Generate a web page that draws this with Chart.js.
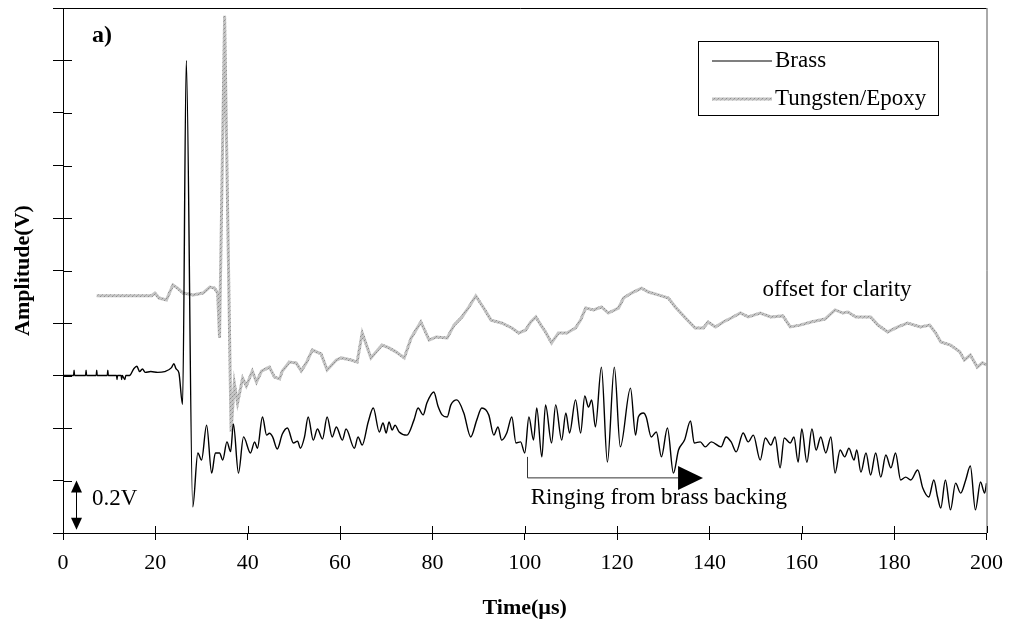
<!DOCTYPE html>
<html>
<head>
<meta charset="utf-8">
<script src="https://cdn.jsdelivr.net/npm/chart.js@4.4.1/dist/chart.umd.min.js"></script>
<style>
  html, body { margin: 0; padding: 0; background: #fff; }
  #wrap { width: 1013px; height: 631px; }
</style>
</head>
<body>
<div id="wrap"><canvas id="chart" width="1013" height="631"></canvas></div>
<script>
// time in µs, amplitude in V (tungsten/epoxy trace offset for clarity)
const brassTime = [0, 2.3, 2.4, 2.5, 4.9, 5.0, 5.1, 7.2, 7.3, 7.4, 9.6, 9.7, 9.8, 11.6, 11.7, 11.8, 12.6, 12.7, 12.8, 13.4, 13.6, 14.4,
  15.3, 16.0, 16.6, 17.2, 17.8, 19.0, 20.5, 22.0, 23.5, 24.0, 24.5, 25.1, 25.9, 26.7, 28.1, 29.2, 30.0, 31.1, 32.2, 33.0, 33.9,
  34.6, 35.5, 36.3, 36.9, 38.0, 39.1, 40.6, 41.5, 42.1, 43.2, 44.1, 44.7, 45.4, 46.4, 47.5, 48.6, 49.9, 50.8, 51.4, 52.3, 53.1,
  54.2, 55.1, 56.2, 57.2, 58.3, 59.2, 60.5, 61.3, 63.1, 63.9, 64.8, 66.1, 67.2, 68.5, 69.3, 70.0, 70.6, 71.3, 71.9, 72.8, 74.5,
  76.0, 76.9, 78.0, 78.8, 80.3, 81.2, 82.1, 83.2, 84.0, 85.3, 86.8, 88.3, 89.6, 90.7, 92.2, 93.3, 94.2, 95.0, 96.1, 97.2, 98.1,
  99.1, 100.0, 100.9, 101.9, 102.6, 103.7, 104.5, 105.8, 106.7, 108.0, 108.9, 109.7, 111.0, 112.1, 113.0, 113.8, 114.5, 115.3,
  116.6, 117.9, 119.4, 120.7, 122.9, 124.0, 124.6, 125.7, 126.3, 127.4, 128.5, 129.6, 130.9, 132.2, 133.3, 134.6, 135.9, 136.7,
  138.0, 139.1, 140.4, 142.5, 143.6, 144.7, 145.8, 147.3, 148.4, 149.5, 151.0, 152.1, 153.3, 154.2, 155.3, 156.2, 157.5, 158.3,
  159.2, 160.0, 161.1, 162.2, 163.1, 164.1, 165.2, 166.3, 167.2, 168.3, 169.3, 170.2, 171.3, 171.9, 172.8, 173.9, 174.9, 176.0,
  177.1, 178.2, 179.3, 180.3, 181.4, 182.5, 183.6, 185.1, 186.2, 187.5, 188.6, 189.4, 190.1, 191.1, 192.2, 193.3, 194.4, 195.5,
  196.5, 197.6, 198.7, 199.6, 200];
const brassVolts = [0.6, 0.6, 0.62, 0.6, 0.6, 0.62, 0.6, 0.6, 0.62, 0.6, 0.6, 0.62, 0.6, 0.6, 0.585, 0.6, 0.6, 0.585, 0.6, 0.585, 0.6, 0.6,
  0.625, 0.635, 0.615, 0.625, 0.612, 0.615, 0.612, 0.615, 0.63, 0.645, 0.625, 0.61, 0.49, 1.80, 0.10, 0.305, 0.278, 0.411, 0.228, 0.305, 0.305,
  0.278, 0.347, 0.31, 0.415, 0.228, 0.366, 0.305, 0.347, 0.323, 0.442, 0.373, 0.38, 0.366, 0.32, 0.377, 0.40, 0.343, 0.35, 0.323, 0.366, 0.442,
  0.354, 0.396, 0.358, 0.442, 0.366, 0.404, 0.354, 0.396, 0.323, 0.366, 0.335, 0.423, 0.476, 0.385, 0.419, 0.381, 0.423, 0.392, 0.411, 0.385, 0.373,
  0.43, 0.476, 0.45, 0.495, 0.537, 0.484, 0.45, 0.442, 0.488, 0.507, 0.457, 0.366, 0.43, 0.476, 0.45, 0.373, 0.404, 0.354, 0.381, 0.442, 0.343,
  0.347, 0.305, 0.442, 0.354, 0.476, 0.29, 0.488, 0.343, 0.488, 0.354, 0.457, 0.381, 0.507, 0.381, 0.522, 0.48, 0.507, 0.404,
  0.632, 0.27, 0.632, 0.328, 0.552, 0.373, 0.442, 0.457, 0.442, 0.366, 0.385, 0.29, 0.40, 0.228, 0.316, 0.354, 0.427, 0.343,
  0.347, 0.328, 0.347, 0.328, 0.366, 0.347, 0.309, 0.381, 0.347, 0.373, 0.278, 0.362, 0.335, 0.366, 0.248, 0.362, 0.343, 0.366,
  0.27, 0.396, 0.27, 0.396, 0.316, 0.366, 0.305, 0.366, 0.228, 0.316, 0.29, 0.323, 0.278, 0.316, 0.232, 0.305, 0.221, 0.305,
  0.213, 0.297, 0.248, 0.305, 0.202, 0.213, 0.202, 0.24, 0.171, 0.137, 0.202, 0.137, 0.095, 0.202, 0.088, 0.19, 0.152, 0.202,
  0.255, 0.088, 0.194, 0.152, 0.19];

const tungstenTime = [7.3, 19.2, 19.9, 20.8, 22.4, 23.8, 24.8, 26.0, 28.2, 30.3, 31.8, 32.8, 33.5, 33.9, 35.0, 36.4, 37.1, 37.8, 38.9,
  39.7, 41.0, 41.9, 43.0, 44.7, 45.8, 46.9, 47.5, 49.0, 50.5, 51.6, 52.7, 54.0, 55.9, 57.2, 59.2, 60.3, 62.4, 63.7, 64.8, 66.7,
  67.8, 69.1, 70.6, 72.1, 73.9, 75.4, 77.5, 79.3, 80.8, 83.2, 84.7, 86.4, 87.9, 89.4, 91.1, 92.7, 95.0, 97.2, 98.7, 100.2, 101.3,
  102.4, 103.5, 104.5, 105.8, 107.3, 109.1, 111.0, 112.1, 113.2, 114.9, 116.6, 118.1, 120.3, 121.4, 123.1, 125.3, 126.8, 128.9,
  131.1, 132.6, 134.8, 136.9, 138.7, 139.7, 141.3, 143.0, 144.7, 146.7, 148.4, 151.0, 153.3, 155.9, 157.5, 159.6, 162.0, 165.0,
  167.2, 168.9, 170.0, 171.7, 174.9, 176.5, 178.6, 180.8, 182.9, 185.7, 187.7, 189.0, 190.1, 192.2, 194.2, 195.2, 196.5, 198.0,
  199.1, 200];
const tungstenVolts = [0.904, 0.904, 0.914, 0.895, 0.888, 0.945, 0.933, 0.914, 0.907, 0.914, 0.937, 0.933, 0.914, 0.743, 1.97, 0.386, 0.571, 0.495, 0.59,
  0.56, 0.617, 0.575, 0.617, 0.632, 0.594, 0.587, 0.617, 0.651, 0.648, 0.617, 0.648, 0.697, 0.682, 0.621, 0.659, 0.667, 0.659, 0.651, 0.762, 0.667,
  0.69, 0.716, 0.705, 0.69, 0.667, 0.743, 0.804, 0.735, 0.747, 0.743, 0.792, 0.823, 0.861, 0.903, 0.857, 0.811, 0.80, 0.781, 0.762, 0.773, 0.804,
  0.823, 0.792, 0.766, 0.724, 0.762, 0.762, 0.781, 0.811, 0.857, 0.85, 0.861, 0.838, 0.857, 0.895, 0.914, 0.933, 0.918, 0.907,
  0.895, 0.861, 0.819, 0.781, 0.781, 0.804, 0.785, 0.804, 0.819, 0.838, 0.823, 0.838, 0.823, 0.827, 0.785, 0.792, 0.804, 0.815,
  0.85, 0.838, 0.842, 0.823, 0.823, 0.792, 0.766, 0.785, 0.80, 0.785, 0.792, 0.762, 0.728, 0.716, 0.69, 0.659, 0.678, 0.632,
  0.648, 0.64];

const seriesLabels = ["Brass", "Tungsten/Epoxy"];

const SERIF = "'Liberation Serif', 'Times New Roman', serif";

const toPoints = (xs, ys) => xs.map((x, i) => ({ x: x, y: ys[i] }));

// speckled grey stroke, like the scanned trace
const makeGreyPattern = () => {
  const c = document.createElement("canvas");
  c.width = 4;
  c.height = 4;
  const g = c.getContext("2d");
  g.fillStyle = "#c4c4c4";
  g.fillRect(0, 0, 4, 4);
  g.fillStyle = "#8e8e8e";
  g.fillRect(0, 0, 1, 1);
  g.fillRect(2, 2, 1, 1);
  g.fillStyle = "#aaaaaa";
  g.fillRect(3, 1, 1, 1);
  g.fillRect(1, 3, 1, 1);
  return g.createPattern(c, "repeat");
};
const greyStroke = makeGreyPattern();
const seriesColors = ["#000000", greyStroke];

const decorations = {
  id: "decorations",
  afterDraw(chart) {
    const { ctx, chartArea: { left, top, right, bottom } } = chart;
    const xs = chart.scales.x;
    const ys = chart.scales.y;
    ctx.save();

    // frame top / right
    ctx.strokeStyle = "#000";
    ctx.lineWidth = 1;
    ctx.beginPath();
    ctx.moveTo(left - 8, top + 0.5);
    ctx.lineTo(right, top + 0.5);
    ctx.stroke();
    ctx.strokeStyle = "#555";
    ctx.beginPath();
    ctx.moveTo(right + 0.5, top);
    ctx.lineTo(right + 0.5, bottom);
    ctx.stroke();

    // inner half of the tick marks
    ctx.strokeStyle = "#000";
    ctx.beginPath();
    ys.ticks.forEach((t) => {
      const py = Math.round(ys.getPixelForValue(t.value)) + 0.5;
      ctx.moveTo(left, py);
      ctx.lineTo(left + 9, py);
    });
    xs.ticks.forEach((t) => {
      const px = Math.round(xs.getPixelForValue(t.value)) + 0.5;
      ctx.moveTo(px, bottom);
      ctx.lineTo(px, bottom - 7);
    });
    ctx.stroke();

    // legend
    const lx = 698, ly = 41, lw = 240, lh = 74;
    ctx.strokeStyle = "#000";
    ctx.strokeRect(lx + 0.5, ly + 0.5, lw, lh);
    ctx.font = "23px " + SERIF;
    ctx.textBaseline = "middle";
    ctx.textAlign = "left";
    seriesLabels.forEach((lab, i) => {
      const yy = ly + 20 + i * 38;
      ctx.strokeStyle = seriesColors[i];
      ctx.lineWidth = i === 0 ? 1.2 : 3;
      ctx.beginPath();
      ctx.moveTo(lx + 14, yy);
      ctx.lineTo(lx + 74, yy);
      ctx.stroke();
      ctx.fillStyle = "#000";
      ctx.fillText(lab, lx + 77, yy);
    });

    // panel label
    ctx.font = "bold 24px " + SERIF;
    ctx.fillText("a)", 92, 36);

    // annotations
    ctx.font = "23px " + SERIF;
    ctx.fillText("offset for clarity", xs.getPixelForValue(151.5), ys.getPixelForValue(0.925));
    ctx.fillText("Ringing from brass backing", xs.getPixelForValue(101.3), ys.getPixelForValue(0.135));
    ctx.fillText("0.2V", 92, ys.getPixelForValue(0.13));

    // 0.2V scale bar
    const ax = 76.5;
    const yTop = ys.getPixelForValue(0.2);
    const yBot = ys.getPixelForValue(0.012);
    ctx.fillStyle = "#000";
    ctx.strokeStyle = "#000";
    ctx.lineWidth = 1;
    ctx.beginPath();
    ctx.moveTo(ax, yTop + 10);
    ctx.lineTo(ax, yBot - 10);
    ctx.stroke();
    ctx.beginPath();
    ctx.moveTo(ax, yTop);
    ctx.lineTo(ax - 5.5, yTop + 12);
    ctx.lineTo(ax + 5.5, yTop + 12);
    ctx.closePath();
    ctx.fill();
    ctx.beginPath();
    ctx.moveTo(ax, yBot);
    ctx.lineTo(ax - 5.5, yBot - 12);
    ctx.lineTo(ax + 5.5, yBot - 12);
    ctx.closePath();
    ctx.fill();

    // ringing arrow
    const rx0 = xs.getPixelForValue(100.5);
    const rx1 = xs.getPixelForValue(133.2);
    const rx2 = xs.getPixelForValue(138.6);
    const ry = ys.getPixelForValue(0.21);
    ctx.strokeStyle = "#333";
    ctx.beginPath();
    ctx.moveTo(Math.round(rx0) + 0.5, ys.getPixelForValue(0.29));
    ctx.lineTo(Math.round(rx0) + 0.5, ry);
    ctx.lineTo(rx1, ry);
    ctx.stroke();
    ctx.beginPath();
    ctx.moveTo(rx1, ry - 12);
    ctx.lineTo(rx2, ry);
    ctx.lineTo(rx1, ry + 12);
    ctx.closePath();
    ctx.fill();

    ctx.restore();
  },
};

new Chart(document.getElementById("chart"), {
  type: "line",
  data: {
    datasets: [
      {
        label: seriesLabels[0],
        data: toPoints(brassTime, brassVolts),
        borderColor: seriesColors[0],
        borderWidth: 1.4,
        pointRadius: 0,
        cubicInterpolationMode: "monotone",
      },
      {
        label: seriesLabels[1],
        data: toPoints(tungstenTime, tungstenVolts),
        borderColor: seriesColors[1],
        borderWidth: 3,
        pointRadius: 0,
        tension: 0,
      },
    ],
  },
  options: {
    responsive: false,
    animation: false,
    layout: { padding: { top: 8, right: 22, left: 0, bottom: 0 } },
    scales: {
      x: {
        type: "linear",
        min: 0,
        max: 200,
        grid: { drawOnChartArea: false, tickLength: 7, color: "#000" },
        border: { color: "#000", width: 1 },
        ticks: {
          stepSize: 20,
          color: "#000",
          padding: 10,
          maxRotation: 0,
          font: { family: SERIF, size: 22 },
        },
        title: {
          display: true,
          text: "Time(µs)",
          color: "#000",
          padding: { top: 0, bottom: 9 },
          font: { family: SERIF, size: 22, weight: "bold" },
        },
        afterFit(scale) {
          scale.height = 98;
        },
      },
      y: {
        type: "linear",
        min: 0,
        max: 2,
        grid: { drawOnChartArea: false, tickLength: 10, color: "#000" },
        border: { color: "#000", width: 1 },
        ticks: { stepSize: 0.2, display: false },
        title: {
          display: true,
          text: "Amplitude(V)",
          color: "#000",
          padding: { top: 10, bottom: 0 },
          font: { family: SERIF, size: 22, weight: "bold" },
        },
        afterFit(scale) {
          scale.width = 63;
        },
      },
    },
    plugins: {
      legend: { display: false },
      tooltip: { enabled: false },
    },
  },
  plugins: [decorations],
});
</script>
</body>
</html>
